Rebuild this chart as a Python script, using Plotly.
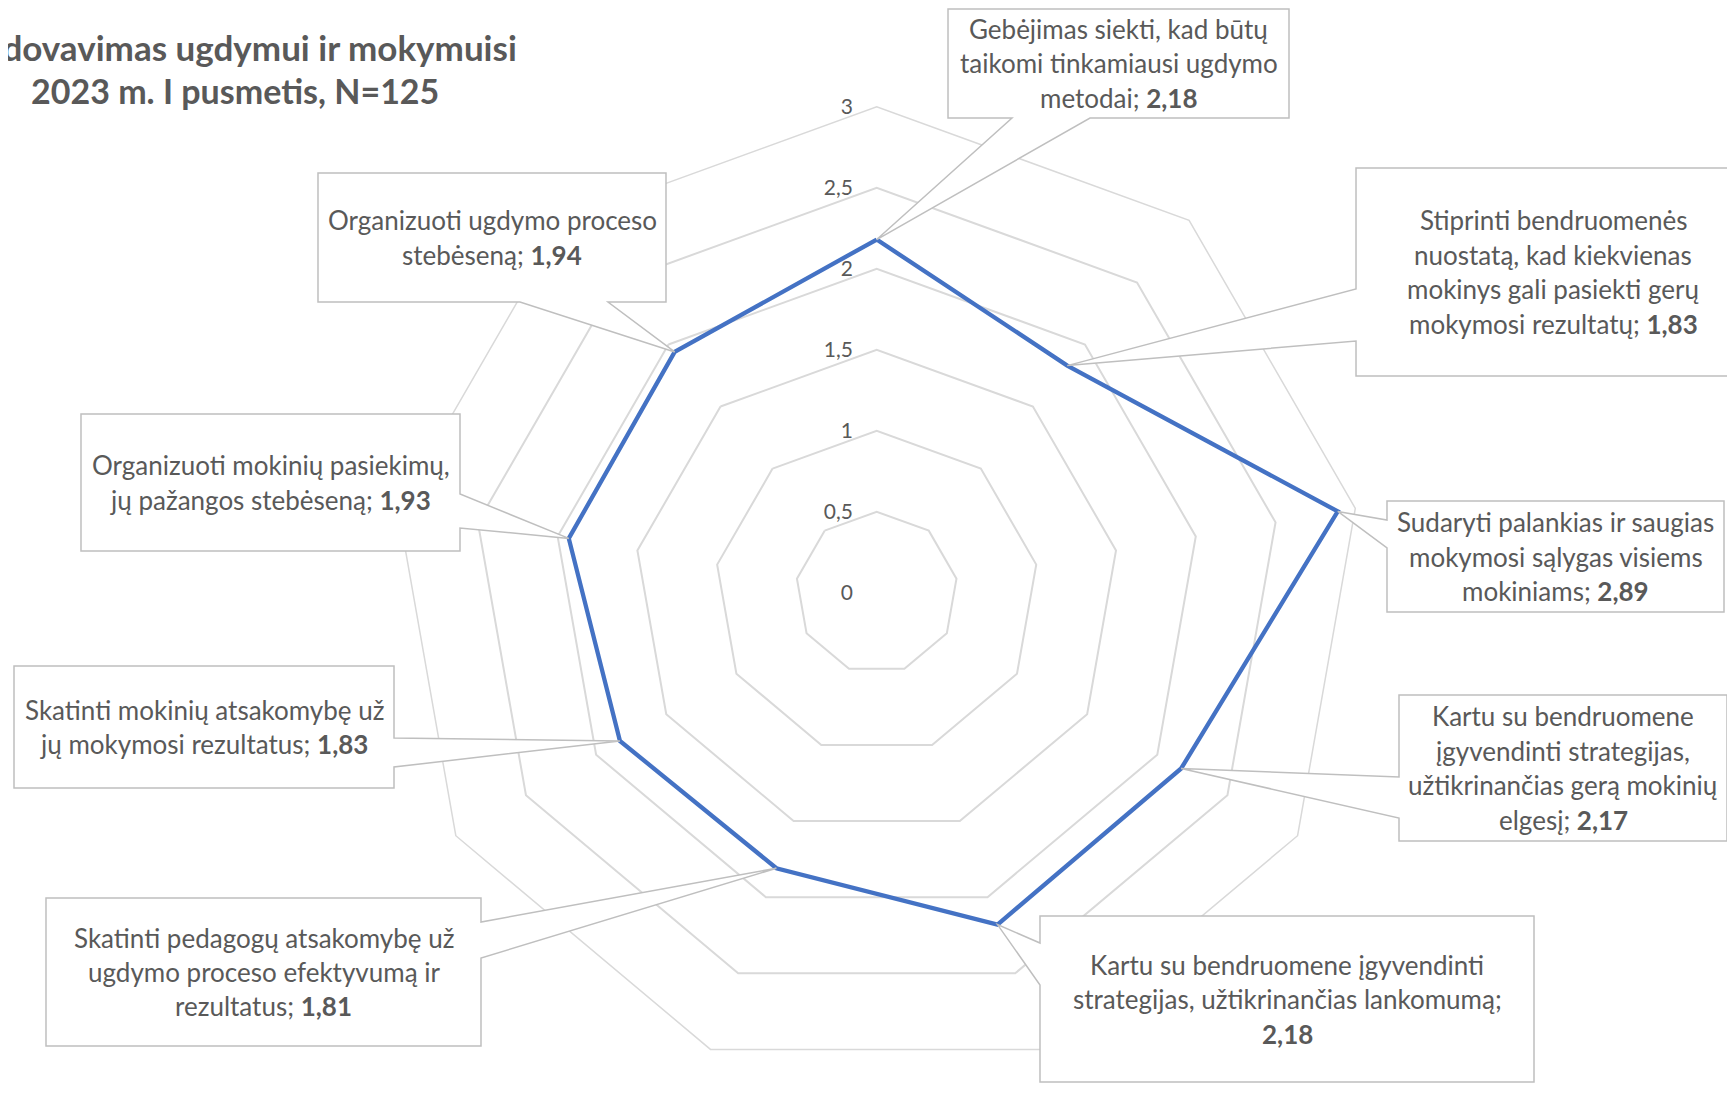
import math
import plotly.graph_objects as go

# ---------------- data ----------------
title_lines = ["Vadovavimas ugdymui ir mokymuisi", "2023 m. I pusmetis, N=125"]

categories = [
    "Gebėjimas siekti, kad būtų taikomi tinkamiausi ugdymo metodai",
    "Stiprinti bendruomenės nuostatą, kad kiekvienas mokinys gali pasiekti gerų mokymosi rezultatų",
    "Sudaryti palankias ir saugias mokymosi sąlygas visiems mokiniams",
    "Kartu su bendruomene įgyvendinti strategijas, užtikrinančias gerą mokinių elgesį",
    "Kartu su bendruomene įgyvendinti strategijas, užtikrinančias lankomumą",
    "Skatinti pedagogų atsakomybę už ugdymo proceso efektyvumą ir rezultatus",
    "Skatinti mokinių atsakomybę už jų mokymosi rezultatus",
    "Organizuoti mokinių pasiekimų, jų pažangos stebėseną",
    "Organizuoti ugdymo proceso stebėseną",
]
values = [2.18, 1.83, 2.89, 2.17, 2.18, 1.81, 1.83, 1.93, 1.94]

radial_tickvals = [0, 0.5, 1, 1.5, 2, 2.5, 3]
radial_ticktext = ["0", "0,5", "1", "1,5", "2", "2,5", "3"]

# ---------------- layout / style ----------------
W, H = 1735, 1103
OFF = 8                            # page body margin of the html page
CX, CY, R = 876.7, 592.7, 486.0    # polar centre and outer radius (screen pixels)
RMAX = 3.0
FONT = "Lato"
TXT = "#595959"
GRID = "#D9D9D9"
BOXC = "#BFBFBF"
LINE = "#4472C4"
LINE_H = 34.5

# callout boxes: screen-pixel rectangle, wedge edge, wedge base, wrap width (chars)
boxes = [
    dict(x0=948, y0=9, x1=1289, y1=118, edge="bottom", b=(1012, 1090), wrap=26, tx=None),
    dict(x0=1356, y0=168, x1=2000, y1=376, edge="left", b=(289, 341), wrap=26, tx=1553),
    dict(x0=1387, y0=501, x1=1724, y1=612, edge="left", b=(520, 548), wrap=29, tx=None),
    dict(x0=1399, y0=695, x1=1727, y1=841, edge="left", b=(777, 818), wrap=27, tx=None),
    dict(x0=1040, y0=916, x1=1534, y1=1082, edge="left", b=(943, 985), wrap=38, tx=None),
    dict(x0=46, y0=898, x1=481, y1=1046, edge="right", b=(922, 958), wrap=31, tx=None),
    dict(x0=14, y0=666, x1=394, y1=788, edge="right", b=(738, 767), wrap=30, tx=None),
    dict(x0=81, y0=414, x1=460, y1=551, edge="right", b=(494, 528), wrap=30, tx=None),
    dict(x0=318, y0=173, x1=666, y1=302, edge="bottom", b=(520, 608), wrap=26, tx=None),
]


def px(x, y):
    return (x - OFF) / W, 1 - (y - OFF) / H


def to_path(pts, close=True):
    s = "M " + " L ".join(f"{px(a, b)[0]:.5f},{px(a, b)[1]:.5f}" for a, b in pts)
    return s + (" Z" if close else "")


def fmt(v):
    return f"{v:.2f}".replace(".", ",")


def wrap_label(cat, val, width):
    tokens = (cat + ";").split(" ") + [f"<b>{fmt(val)}</b>"]
    plain = (cat + ";").split(" ") + [fmt(val)]
    lines, cur, curlen = [], [], 0
    for tok, pl in zip(tokens, plain):
        add = len(pl) + (1 if cur else 0)
        if cur and curlen + add > width:
            lines.append(" ".join(cur))
            cur, curlen = [tok], len(pl)
        else:
            cur.append(tok)
            curlen += add
    if cur:
        lines.append(" ".join(cur))
    return lines


fig = go.Figure()
fig.add_trace(go.Scatterpolar(
    r=values + [values[0]],
    theta=categories + [categories[0]],
    mode="lines",
    line=dict(color=LINE, width=4.3),
    hoverinfo="skip",
    showlegend=False,
))

n = len(categories)
shapes, annotations = [], []
for i, (cat, val, bx) in enumerate(zip(categories, values, boxes)):
    ang = math.radians(90 - i * 360 / n)
    tx = CX + val / RMAX * R * math.cos(ang)
    ty = CY - val / RMAX * R * math.sin(ang)
    x0, y0, x1, y1 = bx["x0"], bx["y0"], bx["x1"], bx["y1"]
    b1, b2 = bx["b"]
    if bx["edge"] == "bottom":
        pts = [(x0, y0), (x1, y0), (x1, y1), (b2, y1), (tx, ty), (b1, y1), (x0, y1)]
        stroke, closed = pts, True
    elif bx["edge"] == "left":
        pts = [(x0, y0), (x1, y0), (x1, y1), (x0, y1), (x0, b2), (tx, ty), (x0, b1)]
        if x1 > W:
            stroke = [(x1, y1), (x0, y1), (x0, b2), (tx, ty), (x0, b1), (x0, y0), (x1, y0)]
            closed = False
        else:
            stroke, closed = pts, True
    else:
        pts = [(x0, y0), (x1, y0), (x1, b1), (tx, ty), (x1, b2), (x1, y1), (x0, y1)]
        stroke, closed = pts, True
    shapes.append(dict(type="path", path=to_path(pts), xref="paper", yref="paper",
                       fillcolor="white", line=dict(width=0), layer="above"))
    shapes.append(dict(type="path", path=to_path(stroke, closed), xref="paper", yref="paper",
                       line=dict(color=BOXC, width=1.5), layer="above"))
    lines = wrap_label(cat, val, bx["wrap"])
    mx = bx["tx"] if bx["tx"] is not None else (x0 + x1) / 2
    my = (y0 + y1) / 2
    for k, ln in enumerate(lines):
        ly = my + (k - (len(lines) - 1) / 2) * LINE_H
        ax_, ay_ = px(mx, ly)
        annotations.append(dict(text=ln, x=ax_, y=ay_, xref="paper", yref="paper",
                                xanchor="center", yanchor="middle", showarrow=False,
                                font=dict(family=FONT, size=26, color=TXT)))

# title
for t, yy, fs, xc in zip(title_lines, [47, 91], [35, 34], [239, 235]):
    ax_, ay_ = px(xc, yy)
    annotations.append(dict(text=f"<b>{t}</b>", x=ax_, y=ay_, xref="paper", yref="paper",
                            xanchor="center", yanchor="middle", showarrow=False,
                            font=dict(family=FONT, size=fs, color=TXT)))

dx0, dy0 = px(CX - R, CY + R)
dx1, dy1 = px(CX + R, CY - R)

fig.update_layout(
    width=W, height=H,
    margin=dict(l=0, r=0, t=0, b=0),
    paper_bgcolor="white",
    plot_bgcolor="white",
    font=dict(family=FONT, color=TXT),
    showlegend=False,
    polar=dict(
        domain=dict(x=[dx0, dx1], y=[dy0, dy1]),
        bgcolor="white",
        gridshape="linear",
        radialaxis=dict(range=[0, RMAX], tickvals=radial_tickvals, ticktext=radial_ticktext,
                        angle=90, side="counterclockwise", tickangle=90,
                        showline=False, ticks="outside", ticklen=16, tickcolor="rgba(0,0,0,0)",
                        gridcolor=GRID, gridwidth=1.5,
                        tickfont=dict(family=FONT, size=21, color=TXT)),
        angularaxis=dict(rotation=90, direction="clockwise", showgrid=False,
                         showticklabels=False, ticks="", showline=True,
                         linecolor=GRID, linewidth=1.5,
                         categoryorder="array", categoryarray=categories),
    ),
    shapes=shapes,
    annotations=annotations,
)

fig.write_html("out.html")
